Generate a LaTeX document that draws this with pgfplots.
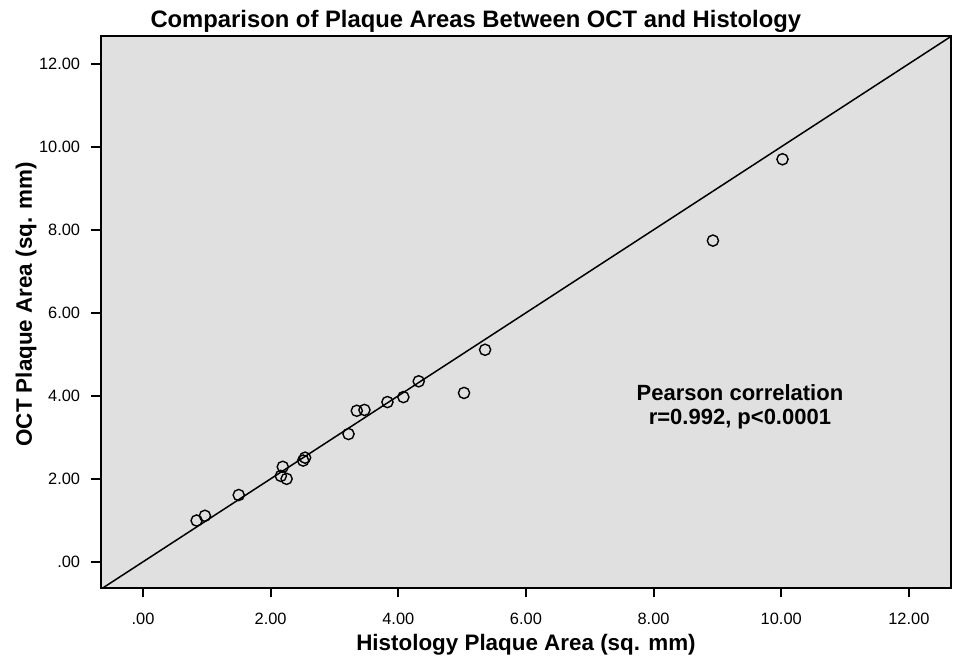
\documentclass[border=0pt]{standalone}
\usepackage{fontspec}
\setmainfont{Liberation Sans}
\usepackage{pgfplots}
\pgfplotsset{compat=1.18}
\usetikzlibrary{calc}
\definecolor{bg}{RGB}{224,224,224}
\begin{document}
\begin{tikzpicture}
\begin{axis}[
  scale only axis,
  width=425pt, height=276pt,
  xmin=-0.658, xmax=12.66, ymin=-0.63, ymax=12.67,
  axis background/.style={fill=bg},
  axis line style={black, line width=1pt},
  xtick={0,2,4,6,8,10,12},
  ytick={0,2,4,6,8,10,12},
  xticklabels={.00,2.00,4.00,6.00,8.00,10.00,12.00},
  yticklabels={.00,2.00,4.00,6.00,8.00,10.00,12.00},
  tick align=outside,
  xtick pos=bottom, ytick pos=left,
  major tick length=4.75pt,
  tick style={black, line width=1pt},
  /pgf/number format/assume math mode=true,
  tick label style={font=\fontsize{8.2}{9}\selectfont, inner sep=0pt},
  xticklabel style={anchor=center, yshift=-10.5pt},
  yticklabel style={anchor=east, xshift=-5.5pt},
  clip=true,
]
\addplot[black, line width=0.75pt] coordinates {(-0.70,-0.70) (12.70,12.70)};
\addplot[only marks, mark=o, mark size=2.8pt, mark options={black, line width=0.7pt}] coordinates {
(0.84,0.995) (0.97,1.11) (1.50,1.61) (2.19,2.29) (2.16,2.07) (2.25,2.00)
(2.51,2.44) (2.54,2.51) (3.22,3.08) (3.35,3.64) (3.47,3.66) (3.83,3.85)
(4.08,3.97) (4.32,4.35) (5.03,4.07) (5.36,5.11) (8.93,7.74) (10.02,9.70)
};
\end{axis}
\node[align=center, font=\fontsize{11}{12}\selectfont\bfseries]
  at ($(current axis.south west)!0.7517!(current axis.south east)+(0,0.3286*276pt)$) {Pearson correlation\\r=0.992, p<0.0001};
\node[anchor=base, font=\fontsize{11.9}{14}\selectfont\bfseries]
  at ($(current axis.north west)!0.441!(current axis.north east)+(0,4pt)$) {Comparison of Plaque Areas Between OCT and Histology};
\node[anchor=base, font=\fontsize{11.2}{14}\selectfont\bfseries]
  at ($(current axis.south)+(0,-31.5pt)$) {Histology Plaque Area (sq. mm)};
\node[anchor=base, rotate=90, font=\fontsize{11.2}{14}\selectfont\bfseries]
  at ($(current axis.south west)!0.514!(current axis.north west)+(-34.5pt,0)$) {OCT Plaque Area (sq. mm)};
\pgfresetboundingbox
\path[use as bounding box] ($(current axis.south west)+(-50.5pt,-34.5pt)$) rectangle ($(current axis.north east)+(2pt,18pt)$);
\end{tikzpicture}
\end{document}
